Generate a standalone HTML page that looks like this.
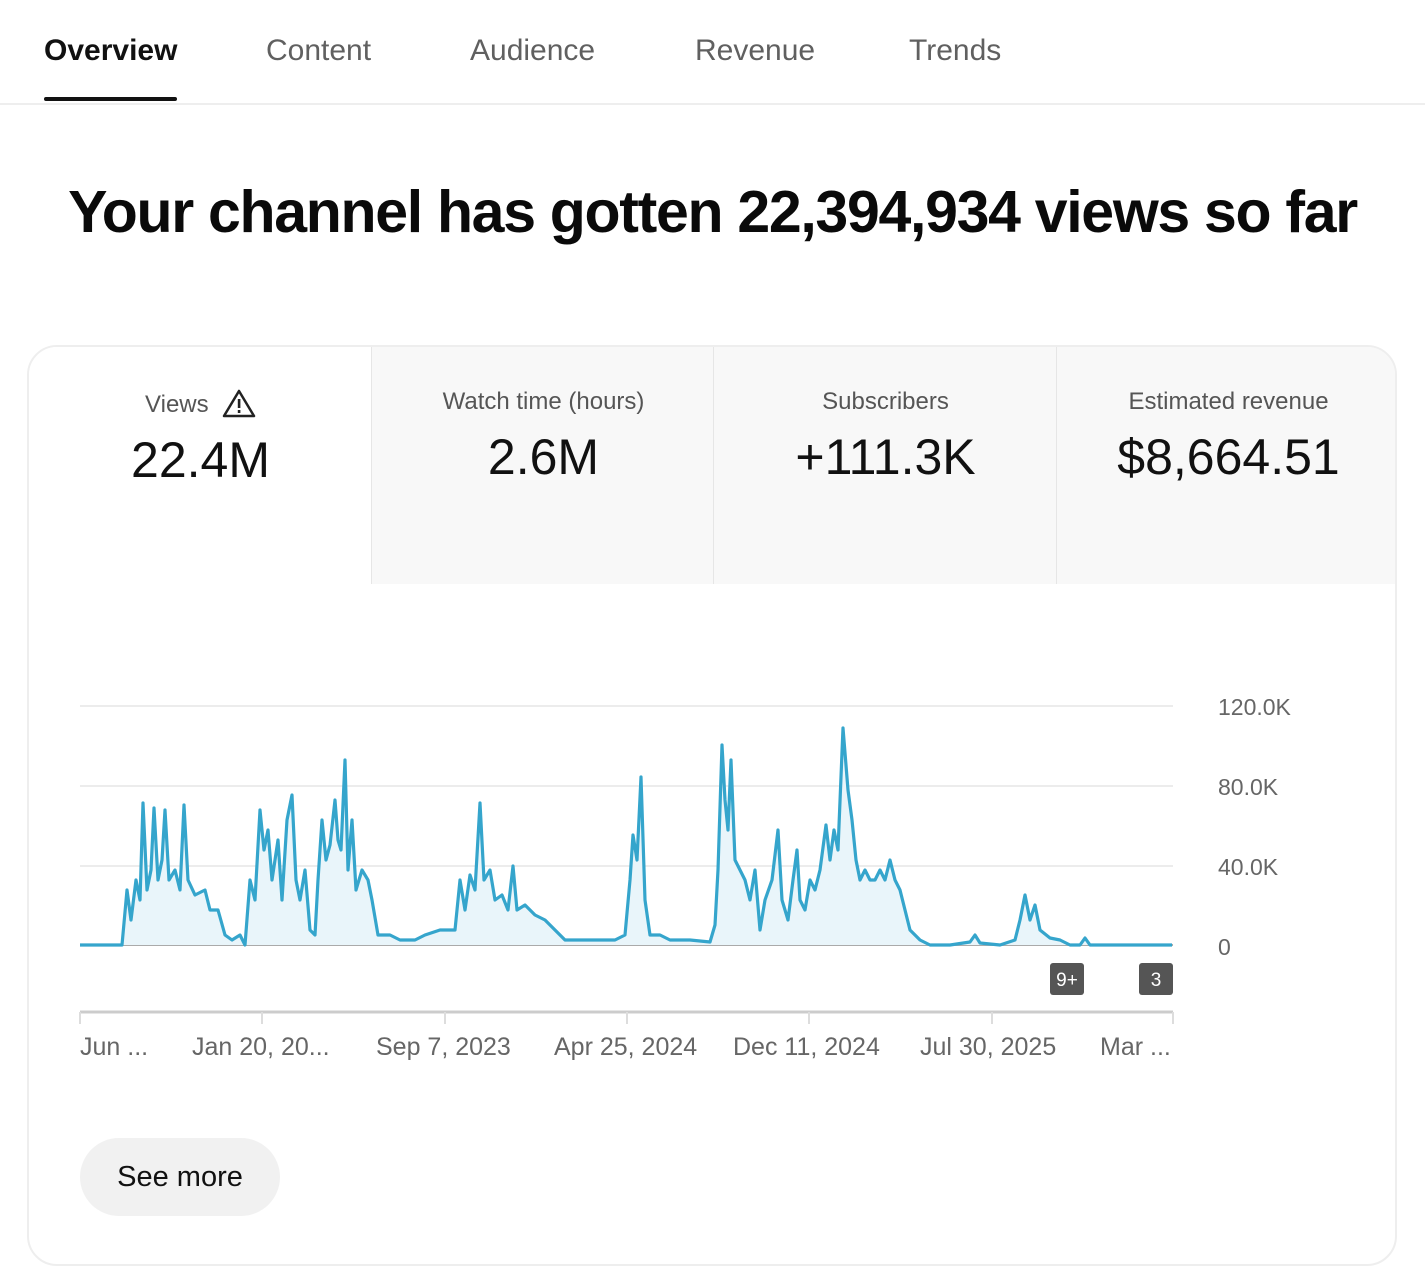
<!DOCTYPE html>
<html><head><meta charset="utf-8"><style>
body{margin:0;width:1425px;height:1270px;background:#fff;font-family:"Liberation Sans",sans-serif;position:relative;overflow:hidden}
.t{position:absolute;top:34px;font-size:30px;color:#606060}
.card{position:absolute;left:27px;top:345px;width:1370px;height:921px;border:2px solid #eee;border-radius:30px;overflow:hidden;box-sizing:border-box}
.m{position:absolute;top:0;height:237px;width:343px;text-align:center}
.ml{font-size:24px;color:#555;margin-top:41px}
.mv{font-size:50px;color:#111;margin-top:12px}
.yl{position:absolute;left:1218px;font-size:23px;color:#666}
.xl{position:absolute;top:1033px;font-size:25px;color:#666}
</style></head><body>
<div class="t" style="left:44px;color:#111;font-weight:bold">Overview</div>
<div class="t" style="left:266px">Content</div>
<div class="t" style="left:470px">Audience</div>
<div class="t" style="left:695px">Revenue</div>
<div class="t" style="left:909px">Trends</div>
<div style="position:absolute;left:44px;top:97px;width:133px;height:4px;background:#111;border-radius:2px"></div>
<div style="position:absolute;left:0;top:103px;width:1425px;height:2px;background:#eee"></div>
<div style="position:absolute;left:0;width:1425px;top:178px;text-align:center;font-size:59px;font-weight:bold;color:#0a0a0a;letter-spacing:-1.3px">Your channel has gotten 22,394,934 views so far</div>
<div class="card">
<div class="m" style="left:0;background:#fff"><div class="ml">Views &nbsp;<svg width="34" height="30" viewBox="0 0 34 30" style="vertical-align:-6px"><path d="M17 3 L32 28 L2 28 Z" fill="none" stroke="#222" stroke-width="2.5" stroke-linejoin="round"/><rect x="15.8" y="11" width="2.6" height="9" fill="#222"/><rect x="15.8" y="22" width="2.6" height="3" fill="#222"/></svg></div><div class="mv">22.4M</div></div>
<div class="m" style="left:342px;background:#f8f8f8;border-left:1px solid #e6e6e6"><div class="ml">Watch time (hours)</div><div class="mv">2.6M</div></div>
<div class="m" style="left:684px;background:#f8f8f8;border-left:1px solid #e6e6e6"><div class="ml">Subscribers</div><div class="mv">+111.3K</div></div>
<div class="m" style="left:1027px;width:343px;background:#f8f8f8;border-left:1px solid #e6e6e6"><div class="ml">Estimated revenue</div><div class="mv">$8,664.51</div></div>
</div>
<svg style="position:absolute;left:0;top:0" width="1425" height="1270">
<g stroke="#ececec" stroke-width="2"><line x1="80" y1="706" x2="1173" y2="706"/><line x1="80" y1="786" x2="1173" y2="786"/><line x1="80" y1="866" x2="1173" y2="866"/></g>
<line x1="80" y1="945" x2="1173" y2="945" stroke="#aaa" stroke-width="2"/>
<polygon fill="#e9f5fa" points="80,945 122,945 127,890 131,920 136,880 140,900 143,803 147,890 151,870 154,808 158,880 162,860 165,810 169,880 175,870 180,890 184,805 188,880 195,895 205,890 210,910 218,910 225,935 232,940 240,935 245,945 250,880 255,900 260,810 264,850 268,830 272,880 278,840 282,900 287,820 292,795 296,880 300,900 305,870 310,930 315,935 318,880 322,820 326,860 330,845 335,800 338,840 341,850 345,760 348,870 352,820 356,890 362,870 368,880 372,900 378,935 390,935 400,940 415,940 425,935 440,930 455,930 460,880 465,910 470,875 475,890 480,803 484,880 490,870 495,900 502,895 508,910 513,866 517,910 525,905 535,915 545,920 555,930 565,940 580,940 600,940 615,940 625,935 630,880 633,835 637,860 641,777 645,900 650,935 660,935 670,940 690,940 710,942 715,925 718,870 722,745 725,800 728,830 731,760 735,860 740,870 745,880 750,900 755,870 760,930 765,900 772,880 778,830 782,900 788,920 793,880 797,850 800,900 805,910 810,880 815,890 820,870 826,825 830,860 834,830 838,850 843,728 848,790 852,820 856,860 860,880 865,870 870,880 875,880 880,870 885,880 890,860 895,880 900,890 905,910 910,930 920,940 930,945 950,945 970,942 975,935 980,943 1000,945 1015,940 1020,920 1025,895 1030,920 1035,905 1040,930 1050,938 1060,940 1070,945 1080,945 1085,938 1090,945 1172,945"/>
<polyline fill="none" stroke="#35a5cc" stroke-width="3.2" stroke-linejoin="round" points="80,945 122,945 127,890 131,920 136,880 140,900 143,803 147,890 151,870 154,808 158,880 162,860 165,810 169,880 175,870 180,890 184,805 188,880 195,895 205,890 210,910 218,910 225,935 232,940 240,935 245,945 250,880 255,900 260,810 264,850 268,830 272,880 278,840 282,900 287,820 292,795 296,880 300,900 305,870 310,930 315,935 318,880 322,820 326,860 330,845 335,800 338,840 341,850 345,760 348,870 352,820 356,890 362,870 368,880 372,900 378,935 390,935 400,940 415,940 425,935 440,930 455,930 460,880 465,910 470,875 475,890 480,803 484,880 490,870 495,900 502,895 508,910 513,866 517,910 525,905 535,915 545,920 555,930 565,940 580,940 600,940 615,940 625,935 630,880 633,835 637,860 641,777 645,900 650,935 660,935 670,940 690,940 710,942 715,925 718,870 722,745 725,800 728,830 731,760 735,860 740,870 745,880 750,900 755,870 760,930 765,900 772,880 778,830 782,900 788,920 793,880 797,850 800,900 805,910 810,880 815,890 820,870 826,825 830,860 834,830 838,850 843,728 848,790 852,820 856,860 860,880 865,870 870,880 875,880 880,870 885,880 890,860 895,880 900,890 905,910 910,930 920,940 930,945 950,945 970,942 975,935 980,943 1000,945 1015,940 1020,920 1025,895 1030,920 1035,905 1040,930 1050,938 1060,940 1070,945 1080,945 1085,938 1090,945 1172,945"/>
<rect x="1050" y="963" width="34" height="32" rx="3" fill="#555"/><text x="1067" y="986" fill="#fff" font-size="19" text-anchor="middle" font-family="Liberation Sans">9+</text>
<rect x="1139" y="963" width="34" height="32" rx="3" fill="#555"/><text x="1156" y="986" fill="#fff" font-size="19" text-anchor="middle" font-family="Liberation Sans">3</text>
<line x1="80" y1="1012" x2="1173" y2="1012" stroke="#ccc" stroke-width="3"/>
<g stroke="#ddd" stroke-width="2"><line x1="80" y1="1012" x2="80" y2="1024"/><line x1="262" y1="1012" x2="262" y2="1024"/><line x1="445" y1="1012" x2="445" y2="1024"/><line x1="627" y1="1012" x2="627" y2="1024"/><line x1="809" y1="1012" x2="809" y2="1024"/><line x1="992" y1="1012" x2="992" y2="1024"/><line x1="1173" y1="1012" x2="1173" y2="1024"/></g>
</svg>
<div class="yl" style="top:694px">120.0K</div>
<div class="yl" style="top:774px">80.0K</div>
<div class="yl" style="top:854px">40.0K</div>
<div class="yl" style="top:934px">0</div>
<div class="xl" style="left:80px">Jun ...</div>
<div class="xl" style="left:192px">Jan 20, 20...</div>
<div class="xl" style="left:376px">Sep 7, 2023</div>
<div class="xl" style="left:554px">Apr 25, 2024</div>
<div class="xl" style="left:733px">Dec 11, 2024</div>
<div class="xl" style="left:920px">Jul 30, 2025</div>
<div class="xl" style="left:1100px">Mar ...</div>
<div style="position:absolute;left:80px;top:1138px;width:200px;height:78px;border-radius:39px;background:#f1f1f1;font-size:29px;color:#111;text-align:center;line-height:78px">See more</div>
</body></html>
